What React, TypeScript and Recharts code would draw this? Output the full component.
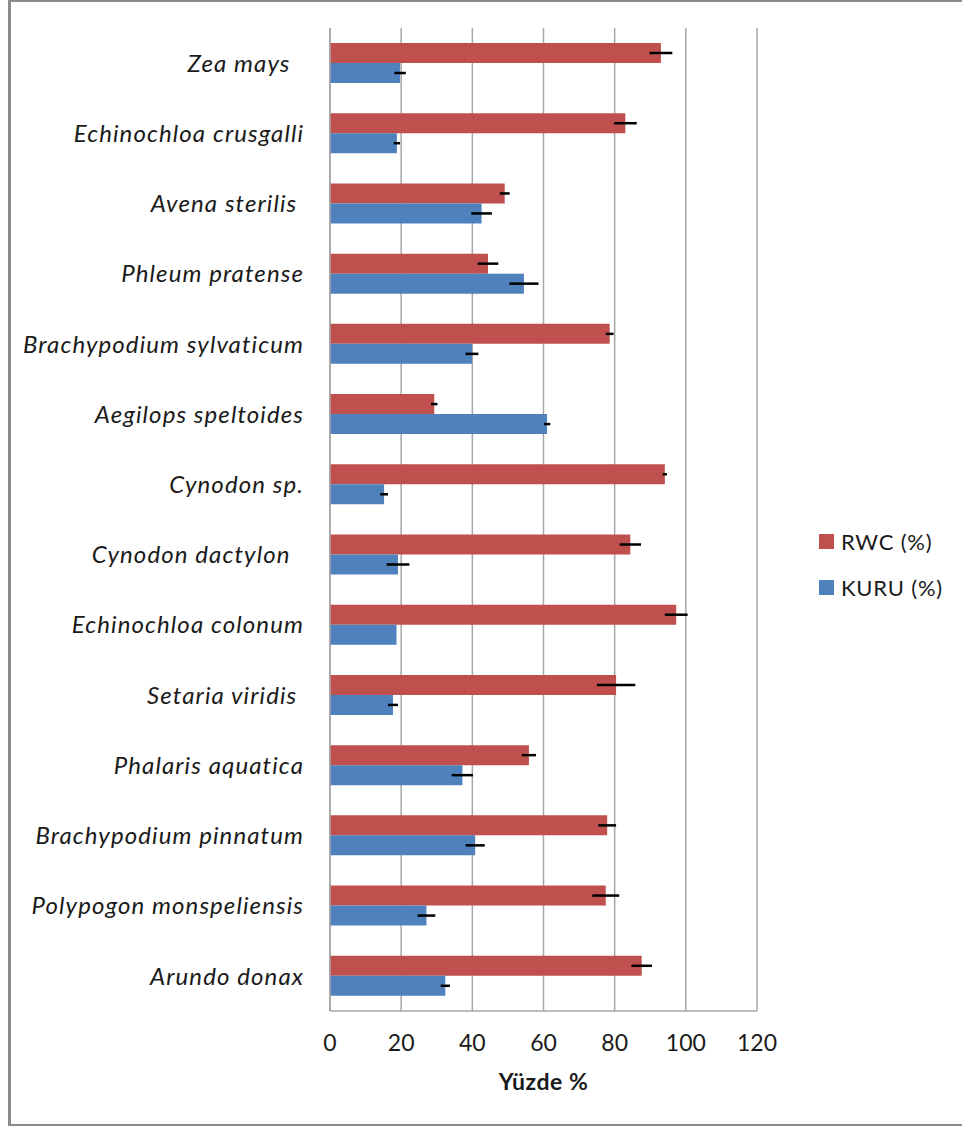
import React from 'react';
import { BarChart, Bar, XAxis, YAxis, CartesianGrid, ErrorBar, Legend } from 'recharts';

const categories = [
  'Zea mays  ',
  'Echinochloa crusgalli',
  'Avena sterilis ',
  'Phleum pratense',
  'Brachypodium sylvaticum',
  'Aegilops speltoides',
  'Cynodon sp.',
  'Cynodon dactylon  ',
  'Echinochloa colonum',
  'Setaria viridis ',
  'Phalaris aquatica',
  'Brachypodium pinnatum',
  'Polypogon monspeliensis',
  'Arundo donax',
];
const rwc = [93.0, 83.0, 49.1, 44.4, 78.6, 29.3, 94.1, 84.4, 97.3, 80.4, 55.9, 77.9, 77.5, 87.6];
const rwcErr = [3.2, 3.2, 1.4, 2.9, 1.1, 0.9, 0.6, 3.0, 3.2, 5.4, 2.0, 2.5, 3.8, 2.9];
const kuru = [19.7, 18.8, 42.6, 54.5, 39.9, 61.0, 15.2, 19.1, 18.7, 17.7, 37.2, 40.8, 27.1, 32.4];
const kuruErr = [1.6, 0.9, 2.9, 4.1, 1.8, 0.9, 1.1, 3.2, 0, 1.4, 3.0, 2.7, 2.5, 1.3];
const xTicks = [0, 20, 40, 60, 80, 100, 120];
const seriesNames = ['RWC (%)', 'KURU (%)'];
const axisTitle = 'Yüzde %';

const RED = '#C0504D';
const BLUE = '#4F81BD';
const GRID = '#A6A6A6';
const FONT = 'Lato, "Open Sans", sans-serif';

const data = categories.map((name, i) => ({
  name,
  rwc: rwc[i],
  rwcErr: rwcErr[i],
  kuru: kuru[i],
  kuruErr: kuruErr[i],
}));

const CategoryTick = (props: any) => {
  const { x, y, payload } = props;
  return (
    <text
      x={x}
      y={y}
      dy="0.36em"
      textAnchor="end"
      fontFamily={FONT}
      fontStyle="italic"
      fontSize={24}
      letterSpacing={1.1}
      fill="#1a1a1a"
      style={{ whiteSpace: 'pre' }}
      xmlSpace="preserve"
    >
      {payload.value}
    </text>
  );
};

const LegendContent = () => {
  const colors = [RED, BLUE];
  return (
    <div style={{ fontFamily: FONT, fontSize: 22, letterSpacing: 0.8, color: '#1a1a1a' }}>
      {seriesNames.map((n, i) => (
        <div key={n} style={{ display: 'flex', alignItems: 'center', height: 46 }}>
          <span style={{ display: 'inline-block', width: 15, height: 15, background: colors[i], marginRight: 7 }} />
          <span>{n}</span>
        </div>
      ))}
    </div>
  );
};

export default function App() {
  return (
    <div style={{ position: 'absolute', left: 0, top: 0, width: 962, height: 1126, background: '#fff' }}>
      <div
        style={{
          position: 'absolute',
          left: 8,
          top: 0,
          width: 954,
          height: 1126,
          boxSizing: 'border-box',
          borderLeft: '3px solid #8C8C8C',
          borderTop: '2px solid #8C8C8C',
          borderBottom: '2px solid #8C8C8C',
        }}
      />
      <div style={{ position: 'absolute', left: 0, top: 0 }}>
        <BarChart
          width={962}
          height={1126}
          data={data}
          layout="vertical"
          margin={{ top: 28, right: 205, bottom: 0, left: 0 }}
          barSize={20}
          barGap={0}
        >
          <CartesianGrid horizontal={false} stroke={GRID} strokeWidth={1.5} />
          <XAxis
            type="number"
            domain={[0, 120]}
            ticks={xTicks}
            height={115}
            tickLine={false}
            tickSize={0}
            tickMargin={24}
            axisLine={{ stroke: GRID, strokeWidth: 1.5 }}
            tick={{ fontFamily: FONT, fontSize: 23, fill: '#1a1a1a' }}
            label={{
              value: axisTitle,
              position: 'insideBottom',
              offset: 36,
              style: { fontFamily: FONT, fontSize: 23, fontWeight: 700, fill: '#1a1a1a', letterSpacing: 0.5 },
            }}
          />
          <YAxis
            type="category"
            dataKey="name"
            width={330}
            tickLine={false}
            tickSize={0}
            tickMargin={26}
            axisLine={{ stroke: GRID, strokeWidth: 1.5 }}
            tick={<CategoryTick />}
            interval={0}
          />
          <Legend
            layout="vertical"
            align="center"
            verticalAlign="middle"
            content={<LegendContent />}
            wrapperStyle={{ left: 819, top: 518, width: 143 }}
          />
          <Bar dataKey="rwc" name={seriesNames[0]} fill={RED} isAnimationActive={false}>
            <ErrorBar dataKey="rwcErr" direction="x" width={0} stroke="#000" strokeWidth={2.5} />
          </Bar>
          <Bar dataKey="kuru" name={seriesNames[1]} fill={BLUE} isAnimationActive={false}>
            <ErrorBar dataKey="kuruErr" direction="x" width={0} stroke="#000" strokeWidth={2.5} />
          </Bar>
        </BarChart>
      </div>
    </div>
  );
}
